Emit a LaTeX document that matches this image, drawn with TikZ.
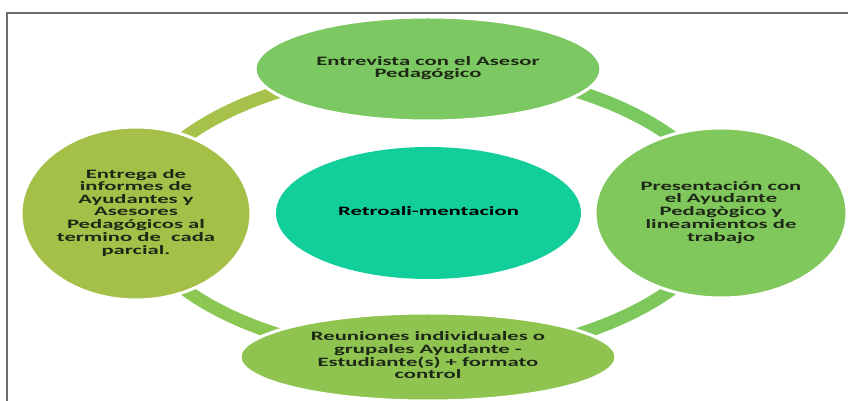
\documentclass[tikz,border=0pt]{standalone}
\usepackage{fontspec}
\usepackage{graphicx}
\usetikzlibrary{shapes.geometric}
\newfontfamily\lblfont{Carlito}
\definecolor{cTop}{RGB}{124,201,99}
\definecolor{cLeft}{RGB}{165,192,73}
\definecolor{cRight}{RGB}{128,200,92}
\definecolor{cBot}{RGB}{143,196,81}
\definecolor{cMid}{RGB}{18,206,154}
\definecolor{aTL}{RGB}{166,194,74}
\definecolor{aTR}{RGB}{121,200,96}
\definecolor{aBL}{RGB}{140,198,83}
\definecolor{aBR}{RGB}{126,200,91}
\definecolor{txt}{RGB}{30,40,22}
\definecolor{frm}{RGB}{110,110,110}
\newcommand\lblset{\lblfont\bfseries\fontsize{12.8}{12.4}\selectfont}
\newcommand\sx[1]{\scalebox{1.77}[1]{\begin{tabular}{@{}c@{}}#1\end{tabular}}}
\begin{document}
\begin{tikzpicture}[x=1pt,y=1pt,
  blob/.style={ellipse, draw=white, line width=3pt, inner sep=0pt, text=txt, font=\lblset},
  ringarc/.style={line width=13pt},
  frame/.style={draw=frm, line width=2.2pt}]
\useasboundingbox (0,0) rectangle (848,401);
\fill[white] (0,0) rectangle (848,401);
% node positions
\path
  node[blob, minimum width=346, minimum height=104, fill=cTop] (nT) at (428,332) {}
  node[blob, minimum width=230, minimum height=173, fill=cLeft] (nL) at (136,187.5) {}
  node[blob, minimum width=252, minimum height=170, fill=cRight] (nR) at (721,188) {}
  node[blob, minimum width=376, minimum height=88, fill=cBot] (nB) at (428,44) {};
% ring arcs
\draw[ringarc, aTR] (nR.center) .. controls +(0,75) and +(152,0) .. (nT.center);
\draw[ringarc, aTL] (nL.center) .. controls +(0,75) and +(-152,0) .. (nT.center);
\draw[ringarc, aBL] (nL.center) .. controls +(0,-75) and +(-152,0) .. (nB.center);
\draw[ringarc, aBR] (nR.center) .. controls +(0,-75) and +(152,0) .. (nB.center);
% ellipses on top
\node[blob, minimum width=346, minimum height=104, fill=cTop] (nT2) at (nT)
  {\sx{Entrevista con el Asesor\\Pedagógico}};
\node[blob, minimum width=230, minimum height=173, fill=cLeft] (nL2) at (nL)
  {\sx{Entrega de\\informes de\\Ayudantes y\\Asesores\\Pedagógicos al\\termino de\ \ cada\\parcial.}};
\node[blob, minimum width=252, minimum height=170, fill=cRight] (nR2) at (nR)
  {\sx{Presentación con\\el Ayudante\\Pedagògico y\\lineamientos de\\trabajo}};
\node[blob, minimum width=376, minimum height=88, fill=cBot] (nB2) at (nB)
  {\sx{Reuniones individuales o\\grupales Ayudante -\\Estudiante(s) + formato\\control}};
\node[blob, draw=none, minimum width=305, minimum height=132, fill=cMid, text=black] (nC) at (428.5,188)
  {\sx{Retroali-mentacion}};
% frame
\draw[frame] (7,0) -- (7,388) -- (848,388);
\end{tikzpicture}
\end{document}
